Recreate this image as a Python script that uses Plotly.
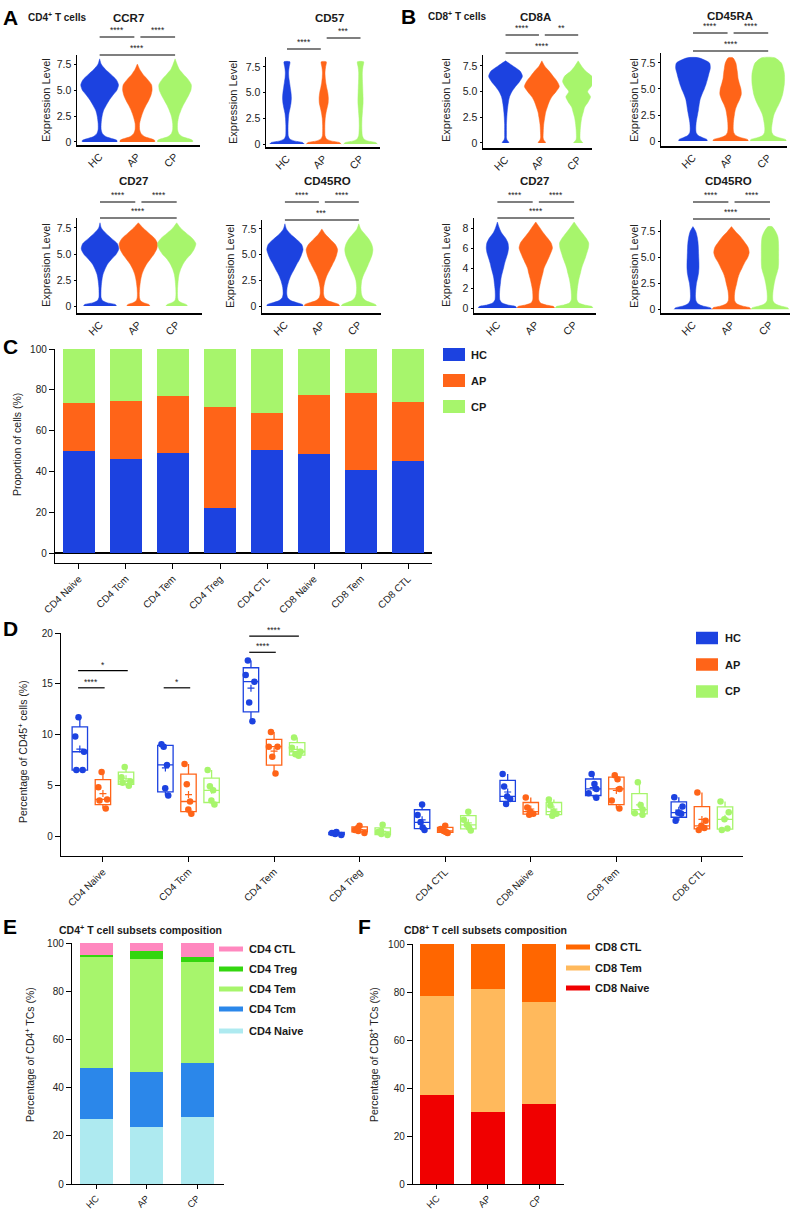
import numpy as np
import plotly.graph_objects as go

W, H = 794, 1210
FONT = "Arial, Liberation Sans, Helvetica, sans-serif"
INK = "#1a1a1a"

GROUPS = ["HC", "AP", "CP"]
GROUP_COLORS = ["#1c42e0", "#ff6418", "#a7f56c"]

# ---------------- Panels A/B: violin density profiles ----------------
# relative half-width of each violin at the expression levels below
V_LEVELS = [0.0, 0.15, 0.3, 0.5, 0.8, 1.2, 1.8, 2.5, 3.0, 3.5, 4.0, 4.5, 5.0, 5.5, 6.0, 6.5, 7.0, 7.5, 8.0]
V_LEVELS_HI = [0.0, 0.15, 0.3, 0.5, 0.8, 1.2, 1.8, 2.5, 3.0, 3.5, 4.0, 4.5, 5.0, 5.5, 6.0, 6.5, 7.0, 7.5, 8.0, 8.6]

CD4_CCR7_HC = [0.92, 0.92, 0.7, 0.35, 0.15, 0.08, 0.08, 0.13, 0.2, 0.34, 0.5, 0.7, 0.92, 1.0, 0.88, 0.6, 0.3, 0.08, 0]
CD4_CCR7_AP = [0.92, 0.92, 0.75, 0.4, 0.2, 0.12, 0.12, 0.22, 0.32, 0.45, 0.6, 0.72, 0.78, 0.75, 0.55, 0.3, 0.12, 0, 0]
CD4_CCR7_CP = [0.93, 0.93, 0.75, 0.4, 0.2, 0.13, 0.13, 0.2, 0.3, 0.42, 0.57, 0.72, 0.84, 0.86, 0.7, 0.45, 0.22, 0.1, 0]

CD4_CD57_HC = [0.94, 0.85, 0.4, 0.15, 0.07, 0.06, 0.06, 0.08, 0.11, 0.17, 0.22, 0.24, 0.22, 0.18, 0.14, 0.1, 0.09, 0.12, 0.16]
CD4_CD57_AP = [0.95, 0.85, 0.4, 0.15, 0.07, 0.06, 0.06, 0.08, 0.12, 0.18, 0.24, 0.25, 0.22, 0.16, 0.11, 0.08, 0.07, 0.1, 0.14]
CD4_CD57_CP = [0.92, 0.82, 0.4, 0.18, 0.1, 0.08, 0.07, 0.08, 0.1, 0.12, 0.14, 0.14, 0.13, 0.12, 0.11, 0.1, 0.1, 0.13, 0.17]

CD4_CD27_HC = [0.86, 0.8, 0.4, 0.15, 0.06, 0.05, 0.06, 0.1, 0.15, 0.25, 0.38, 0.6, 0.85, 0.98, 0.9, 0.6, 0.3, 0.07, 0]
CD4_CD27_AP = [0.6, 0.55, 0.3, 0.12, 0.06, 0.05, 0.07, 0.12, 0.18, 0.28, 0.42, 0.62, 0.82, 0.96, 1.0, 0.85, 0.55, 0.25, 0]
CD4_CD27_CP = [0.56, 0.5, 0.28, 0.1, 0.05, 0.04, 0.05, 0.08, 0.12, 0.2, 0.32, 0.5, 0.75, 0.92, 1.0, 0.82, 0.5, 0.2, 0]

CD4_CD45RO_HC = [0.98, 0.95, 0.7, 0.35, 0.15, 0.1, 0.12, 0.22, 0.33, 0.48, 0.62, 0.78, 0.9, 0.98, 0.9, 0.62, 0.3, 0.08, 0]
CD4_CD45RO_AP = [0.95, 0.92, 0.7, 0.35, 0.15, 0.09, 0.1, 0.18, 0.28, 0.42, 0.56, 0.7, 0.8, 0.85, 0.72, 0.45, 0.18, 0, 0]
CD4_CD45RO_CP = [0.95, 0.9, 0.7, 0.4, 0.22, 0.14, 0.12, 0.16, 0.25, 0.38, 0.5, 0.62, 0.72, 0.76, 0.7, 0.55, 0.32, 0.1, 0]

CD8_CD8A_HC = [0.19, 0.15, 0.08, 0.05, 0.05, 0.05, 0.05, 0.07, 0.09, 0.12, 0.16, 0.22, 0.35, 0.55, 0.78, 0.93, 0.8, 0.41, 0]
CD8_CD8A_AP = [0.21, 0.17, 0.1, 0.07, 0.07, 0.08, 0.1, 0.16, 0.21, 0.3, 0.4, 0.55, 0.78, 0.96, 0.84, 0.62, 0.4, 0.15, 0]
CD8_CD8A_CP = [0.26, 0.2, 0.12, 0.1, 0.1, 0.11, 0.14, 0.2, 0.28, 0.36, 0.55, 0.68, 0.52, 0.72, 0.86, 0.75, 0.41, 0.18, 0]

CD8_CD45RA_HC = [0.76, 0.74, 0.55, 0.3, 0.17, 0.15, 0.17, 0.24, 0.29, 0.33, 0.38, 0.48, 0.6, 0.7, 0.78, 0.85, 0.92, 0.88, 0.3]
CD8_CD45RA_AP = [0.94, 0.9, 0.6, 0.3, 0.17, 0.14, 0.15, 0.2, 0.25, 0.35, 0.48, 0.57, 0.55, 0.47, 0.4, 0.37, 0.33, 0.28, 0.12]
CD8_CD45RA_CP = [0.96, 0.92, 0.62, 0.32, 0.2, 0.18, 0.22, 0.3, 0.42, 0.56, 0.68, 0.77, 0.82, 0.86, 0.87, 0.86, 0.8, 0.7, 0.35]

CD8_CD27_HC = [1.0, 0.95, 0.55, 0.25, 0.13, 0.11, 0.12, 0.16, 0.19, 0.25, 0.32, 0.38, 0.46, 0.54, 0.58, 0.55, 0.42, 0.22, 0.1, 0]
CD8_CD27_AP = [0.98, 0.93, 0.55, 0.25, 0.16, 0.15, 0.17, 0.24, 0.3, 0.37, 0.43, 0.55, 0.67, 0.78, 0.87, 0.8, 0.61, 0.4, 0.22, 0]
CD8_CD27_CP = [0.98, 0.93, 0.55, 0.25, 0.15, 0.14, 0.16, 0.21, 0.26, 0.33, 0.39, 0.48, 0.58, 0.66, 0.74, 0.76, 0.62, 0.42, 0.22, 0]

CD8_CD45RO_HC = [0.98, 0.9, 0.55, 0.28, 0.16, 0.13, 0.14, 0.18, 0.24, 0.29, 0.31, 0.31, 0.3, 0.29, 0.28, 0.26, 0.22, 0.15, 0]
CD8_CD45RO_AP = [1.0, 0.95, 0.6, 0.3, 0.17, 0.15, 0.18, 0.27, 0.33, 0.42, 0.55, 0.68, 0.84, 0.92, 0.86, 0.68, 0.48, 0.22, 0]
CD8_CD45RO_CP = [0.98, 0.92, 0.6, 0.3, 0.16, 0.14, 0.16, 0.22, 0.28, 0.36, 0.43, 0.45, 0.45, 0.45, 0.45, 0.44, 0.41, 0.3, 0.1]

TICKS_25 = [0, 2.5, 5, 7.5]
TICKTEXT_25 = ["0", "2.5", "5.0", "7.5"]
TICKS_2 = [0, 2, 4, 6, 8]
TICKTEXT_2 = ["0", "2", "4", "6", "8"]

VIOLIN_PANELS = [
    ("CCR7", V_LEVELS, [CD4_CCR7_HC, CD4_CCR7_AP, CD4_CCR7_CP], TICKS_25, TICKTEXT_25,
     [(0, 1, "****"), (1, 2, "****"), (0, 2, "****")]),
    ("CD57", V_LEVELS, [CD4_CD57_HC, CD4_CD57_AP, CD4_CD57_CP], TICKS_25, TICKTEXT_25,
     [(0, 1, "****"), (1, 2, "***")]),
    ("CD27", V_LEVELS, [CD4_CD27_HC, CD4_CD27_AP, CD4_CD27_CP], TICKS_25, TICKTEXT_25,
     [(0, 1, "****"), (1, 2, "****"), (0, 2, "****")]),
    ("CD45RO", V_LEVELS, [CD4_CD45RO_HC, CD4_CD45RO_AP, CD4_CD45RO_CP], TICKS_25, TICKTEXT_25,
     [(0, 1, "****"), (1, 2, "****"), (0, 2, "***")]),
    ("CD8A", V_LEVELS, [CD8_CD8A_HC, CD8_CD8A_AP, CD8_CD8A_CP], TICKS_25, TICKTEXT_25,
     [(0, 1, "****"), (1, 2, "**"), (0, 2, "****")]),
    ("CD45RA", V_LEVELS, [CD8_CD45RA_HC, CD8_CD45RA_AP, CD8_CD45RA_CP], TICKS_25, TICKTEXT_25,
     [(0, 1, "****"), (1, 2, "****"), (0, 2, "****")]),
    ("CD27", V_LEVELS_HI, [CD8_CD27_HC, CD8_CD27_AP, CD8_CD27_CP], TICKS_2, TICKTEXT_2,
     [(0, 1, "****"), (1, 2, "****"), (0, 2, "****")]),
    ("CD45RO", V_LEVELS, [CD8_CD45RO_HC, CD8_CD45RO_AP, CD8_CD45RO_CP], TICKS_25, TICKTEXT_25,
     [(0, 1, "****"), (1, 2, "****"), (0, 2, "****")]),
]

# ---------------- Panel C ----------------
SUBSETS = ["CD4 Naive", "CD4 Tcm", "CD4 Tem", "CD4 Treg", "CD4 CTL", "CD8 Naive", "CD8 Tem", "CD8 CTL"]
C_HC = [49.8, 46.3, 48.9, 22.3, 50.4, 48.3, 40.6, 45.0]
C_AP = [23.9, 28.4, 28.1, 49.3, 18.3, 29.2, 37.9, 29.1]
C_CP = [26.3, 25.3, 23.0, 28.4, 31.3, 22.5, 21.5, 25.9]

# ---------------- Panel D ----------------
D_HC = [[6.5, 6.5, 8.3, 9.8, 11.7], [4.0, 4.7, 7.0, 8.8, 9.05], [11.3, 13.15, 15.2, 15.85, 17.3],
        [0.1, 0.2, 0.3, 0.3, 0.4], [0.6, 0.85, 1.35, 2.07, 3.1], [3.16, 3.65, 3.9, 4.87, 6.1],
        [3.78, 4.2, 4.64, 5.13, 6.1], [1.5, 2.2, 2.3, 2.9, 3.82]]
D_AP = [[2.7, 3.5, 3.6, 4.8, 6.3], [2.2, 2.6, 3.4, 5.1, 7.1], [6.15, 7.8, 8.8, 8.8, 10.25],
        [0.3, 0.5, 0.6, 0.8, 1.0], [0.3, 0.4, 0.5, 0.7, 1.0], [2.1, 2.2, 2.4, 2.8, 3.8],
        [2.7, 3.49, 4.64, 5.6, 5.99], [0.6, 0.8, 1.0, 1.5, 4.28]]
D_CP = [[4.95, 5.25, 5.4, 5.8, 6.8], [3.1, 3.5, 4.5, 4.9, 6.5], [7.9, 8.05, 8.3, 8.7, 9.7],
        [0.1, 0.2, 0.4, 0.5, 1.1], [0.55, 0.85, 1.1, 1.6, 2.4], [2.0, 2.2, 2.4, 3.0, 3.6],
        [2.1, 2.25, 2.6, 3.06, 5.3], [0.6, 0.75, 1.64, 2.33, 3.39]]
# (subset index, group a, group b, bar level, label)
D_SIG = [(0, 0, 1, 14.6, "****"), (0, 0, 2, 16.3, "*"), (1, 0, 1, 14.6, "*"),
         (2, 0, 1, 18.1, "****"), (2, 0, 2, 19.7, "****")]

# ---------------- Panel E ----------------
E_SUBSETS = ["CD4 Naive", "CD4 Tcm", "CD4 Tem", "CD4 Treg", "CD4 CTL"]
E_COLORS = ["#aeeaf0", "#2b87ea", "#a7f56c", "#33d60f", "#ff88bf"]
E_NAIVE = [27.0, 23.5, 27.6]
E_TCM = [21.2, 23.0, 22.5]
E_TEM = [46.0, 46.9, 41.9]
E_TREG = [0.8, 3.1, 2.0]
E_CTL = [5.0, 3.5, 6.0]

# ---------------- Panel F ----------------
F_SUBSETS = ["CD8 Naive", "CD8 Tem", "CD8 CTL"]
F_COLORS = ["#f00000", "#ffb95c", "#ff6600"]
F_NAIVE = [37.1, 30.0, 33.3]
F_TEM = [41.1, 51.2, 42.5]
F_CTL = [21.8, 18.8, 24.2]

# =====================================================================
fig = go.Figure()
_axis_n = [0]


def add_axes(l, r, t, b, xkw, ykw, lw=1.2):
    _axis_n[0] += 1
    n = _axis_n[0]
    s = "" if n == 1 else str(n)
    xid, yid = "x" + s, "y" + s
    base = dict(showgrid=False, zeroline=False, showline=True, linecolor="#000", linewidth=lw,
                ticks="outside", tickcolor="#000", ticklen=4, tickwidth=1, automargin=False,
                tickfont=dict(family=FONT, size=10, color="#222"), fixedrange=True)
    xa = dict(base, domain=[l / W, r / W], anchor=yid)
    xa.update(xkw)
    ya = dict(base, domain=[1 - b / H, 1 - t / H], anchor=xid)
    ya.update(ykw)
    fig.update_layout({"xaxis" + s: xa, "yaxis" + s: ya})
    return xid, yid


def text(x, y, s, size=10, bold=False, xanchor="center", yanchor="middle", angle=0, color=INK, xref="paper", yref="paper"):
    if bold:
        s = "<b>" + s + "</b>"
    if xref == "paper":
        x = x / W
    if yref == "paper":
        y = 1 - y / H
    fig.add_annotation(x=x, y=y, xref=xref, yref=yref, text=s, showarrow=False, xanchor=xanchor,
                       yanchor=yanchor, textangle=angle, font=dict(family=FONT, size=size, color=color),
                       borderpad=0)


def violin_outline(center, levels, widths, wmax=0.5):
    last = max(i for i, w in enumerate(widths) if w > 0)
    end = min(last + 1, len(widths) - 1)
    lv = list(levels[:end + 1])
    wd = list(widths[:end + 1])
    xs = [center - w * wmax for w in wd] + [center + w * wmax for w in wd[::-1]]
    ys = lv + lv[::-1]
    return xs, ys


# ---------------- Violin layout ----------------
VIOLIN_LAYOUT = [
    dict(box=(77, 200, 55, 145), xr=[-0.6, 2.66], yr=[-0.29, 8.37], title=(128, 18), ylab=(46, 100), rises=[18, 18, 0]),
    dict(box=(266, 380, 57, 147), xr=[-0.57, 2.53], yr=[-0.29, 8.47], title=(329, 18), ylab=(233, 102), rises=[8, 19]),
    dict(box=(77, 202, 218, 313), xr=[-0.6, 2.66], yr=[-0.67, 8.46], title=(133, 181), ylab=(46, 265), rises=[16, 16, 0]),
    dict(box=(262, 381, 220, 313), xr=[-0.62, 2.6], yr=[-0.68, 8.37], title=(327, 181), ylab=(230, 266), rises=[18, 18, 0]),
    dict(box=(483, 592, 55, 148), xr=[-0.62, 2.38], yr=[-0.49, 8.57], title=(535, 17), ylab=(446, 100), rises=[20, 20, 2]),
    dict(box=(661, 787, 53, 146), xr=[-0.85, 2.5], yr=[-0.48, 8.46], title=(730, 16), ylab=(634, 100), rises=[20, 20, 2]),
    dict(box=(474, 596, 218, 313), xr=[-0.61, 2.57], yr=[-0.5, 9.0], title=(534, 181), ylab=(446, 265), rises=[16, 16, 0]),
    dict(box=(661, 790, 220, 313), xr=[-0.83, 2.52], yr=[-0.36, 8.64], title=(728, 181), ylab=(634, 266), rises=[18, 18, 1]),
]

for spec, lay in zip(VIOLIN_PANELS, VIOLIN_LAYOUT):
    title, levels, profiles, tv, tt, sig = spec
    l, r, t, b = lay["box"]
    xid, yid = add_axes(l, r, t, b,
                        dict(range=lay["xr"], tickvals=[0, 1, 2], ticktext=GROUPS, tickangle=-45, ticks="",
                             tickfont=dict(family=FONT, size=10.5, color="#222")),
                        dict(range=lay["yr"], tickvals=tv, ticktext=tt, ticklen=2,
                             tickfont=dict(family=FONT, size=10.5, color="#222")), lw=1.5)
    for g, prof in enumerate(profiles):
        xs, ys = violin_outline(g, levels, prof)
        fig.add_trace(go.Scatter(x=xs, y=ys, xaxis=xid, yaxis=yid, mode="lines", fill="toself",
                                 fillcolor=GROUP_COLORS[g],
                                 line=dict(color=GROUP_COLORS[g], width=0.5, shape="spline", smoothing=0.7),
                                 hoverinfo="skip", showlegend=False))
    text(lay["title"][0], lay["title"][1], title, size=11.5, bold=True)
    text(lay["ylab"][0], lay["ylab"][1], "Expression Level", size=11, angle=-90, color="#222")
    for (i, j, lab), rise in zip(sig, lay["rises"]):
        if j - i == 1:
            x0, x1 = (i, j - 0.08) if i == 0 else (i + 0.08, j)
        else:
            x0, x1 = i, j
        yl = t - rise
        fig.add_shape(type="line", xref=xid, yref="paper", x0=x0, x1=x1, y0=1 - yl / H, y1=1 - yl / H,
                      line=dict(color="#000", width=1.2))
        text((x0 + x1) / 2, yl - 1, lab, size=8.5, xref=xid, yanchor="bottom", color="#222")

# ---------------- Panel C ----------------
xc, yc = add_axes(55, 432, 349, 563,
                  dict(range=[-0.51, 7.51], tickvals=list(range(8)), ticktext=SUBSETS, tickangle=-45, ticklen=5),
                  dict(range=[-4.9, 100], tickvals=[0, 20, 40, 60, 80, 100], ticklen=5,
                       zeroline=True, zerolinecolor="#000", zerolinewidth=1.2))
for name, vals, col in zip(GROUPS, [C_HC, C_AP, C_CP], GROUP_COLORS):
    fig.add_trace(go.Bar(x=list(range(8)), y=vals, width=0.68, marker=dict(color=col, line=dict(width=0)),
                         xaxis=xc, yaxis=yc, name=name, showlegend=False))
text(17, 445, "Proportion of cells (%)", size=10.5, angle=-90, color="#222")

# ---------------- Panel D ----------------
D_OFFSETS = [-0.27, 0.0, 0.27]
xd, yd = add_axes(61, 743, 633, 856,
                  dict(range=[-0.49, 7.48], tickvals=list(range(8)), ticktext=SUBSETS, tickangle=-45, ticklen=5),
                  dict(range=[-1.97, 20], tickvals=[0, 5, 10, 15, 20], ticklen=5))
for g, (name, data, col) in enumerate(zip(GROUPS, [D_HC, D_AP, D_CP], GROUP_COLORS)):
    xs, ys, mx, my = [], [], [], []
    for i, vals in enumerate(data):
        xs += [i + D_OFFSETS[g]] * len(vals)
        ys += vals
        mx.append(i + D_OFFSETS[g])
        my.append(float(np.mean(vals)))
    fig.add_trace(go.Box(x=xs, y=ys, xaxis=xd, yaxis=yd, width=0.18, boxpoints="all", jitter=0.7, pointpos=0,
                         quartilemethod="exclusive", fillcolor="rgba(255,255,255,0)", whiskerwidth=0,
                         line=dict(color=col, width=1.3), marker=dict(color=col, size=6.5),
                         name=name, showlegend=False, hoverinfo="skip"))
    fig.add_trace(go.Scatter(x=mx, y=my, xaxis=xd, yaxis=yd, mode="markers",
                             marker=dict(symbol="cross-thin", size=5, line=dict(color=col, width=1.2)),
                             showlegend=False, hoverinfo="skip"))
for i, ga, gb, lvl, lab in D_SIG:
    x0, x1 = i + D_OFFSETS[ga] - 0.02, i + D_OFFSETS[gb] + 0.02
    fig.add_shape(type="line", xref=xd, yref=yd, x0=x0, x1=x1, y0=lvl, y1=lvl, line=dict(color="#000", width=1.2))
    fig.add_annotation(x=(x0 + x1) / 2, y=lvl, xref=xd, yref=yd, text=lab, showarrow=False, yanchor="bottom",
                       font=dict(family=FONT, size=8.5, color="#222"), borderpad=0)
text(22, 752, "Percentage of CD45<sup>+</sup> cells (%)", size=10.5, angle=-90, color="#222")

# ---------------- Panel E ----------------
xe, ye = add_axes(72, 224, 943, 1184,
                  dict(range=[-0.48, 2.53], tickvals=[0, 1, 2], ticktext=GROUPS, tickangle=-45, ticklen=4,
                       tickfont=dict(family=FONT, size=9.5, color="#222")),
                  dict(range=[0, 100], tickvals=[0, 20, 40, 60, 80, 100], ticklen=5))
for name, vals, col in zip(E_SUBSETS, [E_NAIVE, E_TCM, E_TEM, E_TREG, E_CTL], E_COLORS):
    fig.add_trace(go.Bar(x=[0, 1, 2], y=vals, width=0.65, marker=dict(color=col, line=dict(width=0)),
                         xaxis=xe, yaxis=ye, name=name, showlegend=False))
text(29, 1055, "Percentage of CD4<sup>+</sup> TCs (%)", size=10.5, angle=-90, color="#222")
text(58, 929, "CD4<sup>+</sup> T cell subsets composition", size=10.5, bold=True, xanchor="left")

# ---------------- Panel F ----------------
xf, yf = add_axes(413, 564, 944, 1184,
                  dict(range=[-0.47, 2.49], tickvals=[0, 1, 2], ticktext=GROUPS, tickangle=-45, ticklen=4,
                       tickfont=dict(family=FONT, size=9.5, color="#222")),
                  dict(range=[0, 100], tickvals=[0, 20, 40, 60, 80, 100], ticklen=5))
for name, vals, col in zip(F_SUBSETS, [F_NAIVE, F_TEM, F_CTL], F_COLORS):
    fig.add_trace(go.Bar(x=[0, 1, 2], y=vals, width=0.65, marker=dict(color=col, line=dict(width=0)),
                         xaxis=xf, yaxis=yf, name=name, showlegend=False))
text(373, 1055, "Percentage of CD8<sup>+</sup> TCs (%)", size=10.5, angle=-90, color="#222")
text(403, 929, "CD8<sup>+</sup> T cell subsets composition", size=10.5, bold=True, xanchor="left")


# ---------------- manual legends ----------------
def legend(names, colors, x0, x1, ys, h, lx, size=11):
    for name, col, yy in zip(names, colors, ys):
        fig.add_shape(type="rect", xref="paper", yref="paper", x0=x0 / W, x1=x1 / W,
                      y0=1 - (yy + h / 2) / H, y1=1 - (yy - h / 2) / H, fillcolor=col, line=dict(width=0))
        text(lx, yy, name, size=size, bold=True, xanchor="left")


legend(GROUPS, GROUP_COLORS, 443, 465, [354.5, 380.5, 406.5], 13, 470)
legend(GROUPS, GROUP_COLORS, 696, 718, [638, 664.5, 691.5], 12.5, 724)
legend(E_SUBSETS[::-1], E_COLORS[::-1], 219, 243, [949, 969, 989, 1009, 1031], 5, 248)
legend(F_SUBSETS[::-1], F_COLORS[::-1], 566, 590, [947, 968, 988], 5, 594)

# ---------------- panel letters & headers ----------------
for letter, lx, ly in [("A", 2, 17), ("B", 400, 16), ("C", 2, 346), ("D", 2, 628), ("E", 2, 926), ("F", 357, 926)]:
    text(lx, ly, letter, size=21, bold=True, xanchor="left", color="#000")
text(27, 17, "CD4<sup>+</sup> T cells", size=10, bold=True, xanchor="left")
text(427, 16, "CD8<sup>+</sup> T cells", size=10, bold=True, xanchor="left")

fig.update_layout(width=W, height=H, autosize=False, margin=dict(l=0, r=0, t=0, b=0, pad=0),
                  paper_bgcolor="white", plot_bgcolor="white", barmode="stack", showlegend=False,
                  font=dict(family=FONT, color=INK))
fig.write_html("out.html", config={"displayModeBar": False, "staticPlot": True},
               post_script="document.body.style.margin='0px';document.body.style.padding='0px';"
                           "document.body.style.overflow='hidden';")
